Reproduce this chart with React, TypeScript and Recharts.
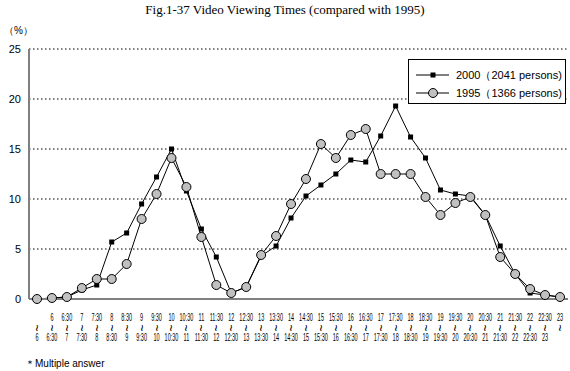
import { LineChart, Line, XAxis, YAxis, CartesianGrid } from "recharts";

// time slot labels: upper line = start, lower line = end
const slotFrom = [
  "", "6", "6:30", "7", "7:30", "8", "8:30", "9", "9:30", "10", "10:30", "11",
  "11:30", "12", "12:30", "13", "13:30", "14", "14:30", "15", "15:30", "16",
  "16:30", "17", "17:30", "18", "18:30", "19", "19:30", "20", "20:30", "21",
  "21:30", "22", "22:30", "23",
];
const slotTo = [
  "6", "6:30", "7", "7:30", "8", "8:30", "9", "9:30", "10", "10:30", "11",
  "11:30", "12", "12:30", "13", "13:30", "14", "14:30", "15", "15:30", "16",
  "16:30", "17", "17:30", "18", "18:30", "19", "19:30", "20", "20:30", "21",
  "21:30", "22", "22:30", "23", "",
];

const share2000 = [
  0, 0.1, 0.2, 0.9, 1.4, 5.7, 6.6, 9.5, 12.2, 15.0, 10.8, 7.0, 4.2, 0.6, 1.2,
  4.3, 5.3, 8.1, 10.3, 11.4, 12.5, 13.9, 13.7, 16.3, 19.3, 16.2, 14.1, 10.9,
  10.5, 10.3, 8.4, 5.3, 2.5, 0.6, 0.4, 0.2,
];
const share1995 = [
  0, 0.1, 0.2, 1.1, 2.0, 2.0, 3.5, 8.0, 10.5, 14.1, 11.2, 6.2, 1.4, 0.6, 1.2,
  4.4, 6.3, 9.5, 12.0, 15.5, 14.1, 16.4, 17.0, 12.5, 12.5, 12.5, 10.2, 8.4,
  9.6, 10.2, 8.4, 4.2, 2.5, 1.0, 0.4, 0.2,
];

const yTicks = [0, 5, 10, 15, 20, 25];

const data = slotFrom.map((f, i) => ({
  slot: `${f}~${slotTo[i]}`,
  y2000: share2000[i],
  y1995: share1995[i],
}));

const sans = "'Liberation Sans', Arial, sans-serif";
const frame = "#808080";

function SlotTick(props: any) {
  const { x, y, index } = props;
  const small = { fontSize: 10, fontFamily: sans, fill: "#000" };
  return (
    <g>
      <text
        transform={`translate(${x},${y + 22}) scale(0.55,1)`}
        textAnchor="middle"
        {...small}
      >
        {slotFrom[index]}
      </text>
      <text
        transform={`translate(${x},${y + 29}) rotate(90)`}
        textAnchor="middle"
        dominantBaseline="central"
        fontSize={12}
        fontFamily={sans}
      >
        ~
      </text>
      <text
        transform={`translate(${x},${y + 42}) scale(0.55,1)`}
        textAnchor="middle"
        {...small}
      >
        {slotTo[index]}
      </text>
    </g>
  );
}

function SquareDot(props: any) {
  const { cx, cy, index } = props;
  return <rect key={`sq-${index}`} x={cx - 2.5} y={cy - 2.5} width={5} height={5} fill="#000" />;
}

function LegendRow({ circle, label, top }: { circle: boolean; label: string; top: number }) {
  return (
    <div style={{ position: "absolute", left: 0, top, height: 12, display: "flex", alignItems: "center" }}>
      <svg width={46} height={12}>
        <line x1={7} y1={6} x2={40} y2={6} stroke="#000" strokeWidth={1} />
        {circle ? (
          <circle cx={24} cy={6} r={4.5} fill="#c0c0c0" stroke="#000" strokeWidth={1} />
        ) : (
          <rect x={21.5} y={3.5} width={5} height={5} fill="#000" />
        )}
      </svg>
      <span style={{ fontSize: 11, fontFamily: sans, whiteSpace: "nowrap", marginLeft: 1 }}>{label}</span>
    </div>
  );
}

export default function App() {
  return (
    <div
      style={{
        position: "absolute",
        left: 0,
        top: 0,
        width: 570,
        height: 371,
        background: "#fff",
        overflow: "hidden",
      }}
    >
      <div
        style={{
          position: "absolute",
          left: 0,
          top: 2,
          width: 570,
          textAlign: "center",
          fontFamily: "'Liberation Serif', 'Times New Roman', serif",
          fontSize: 13,
        }}
      >
        Fig.1-37 Video Viewing Times (compared with 1995)
      </div>
      <div style={{ position: "absolute", left: 4, top: 24, fontSize: 10, fontFamily: sans }}>
        （%）
      </div>

      <LineChart
        width={570}
        height={371}
        data={data}
        margin={{ top: 49, right: 2, bottom: 0, left: 0 }}
      >
        <CartesianGrid
          vertical={false}
          stroke="#000"
          strokeDasharray="1.5 2.5"
        />
        <XAxis
          dataKey="slot"
          interval={0}
          padding={{ left: 8, right: 8 }}
          tickLine={false}
          tickSize={0}
          tickMargin={0}
          height={72}
          axisLine={{ stroke: frame, strokeWidth: 2 }}
          tick={<SlotTick />}
        />
        <XAxis
          xAxisId="top"
          dataKey="slot"
          orientation="top"
          height={0}
          tick={false}
          tickLine={false}
          axisLine={{ stroke: frame, strokeWidth: 2 }}
        />
        <YAxis
          domain={[0, 25]}
          ticks={yTicks}
          width={29}
          tickLine={false}
          axisLine={{ stroke: frame, strokeWidth: 2 }}
          tick={{ fontSize: 11, fontFamily: sans, fill: "#000" }}
        />
        <YAxis
          yAxisId="right"
          orientation="right"
          domain={[0, 25]}
          width={0}
          tick={false}
          tickLine={false}
          axisLine={{ stroke: frame, strokeWidth: 2 }}
        />
        <Line
          dataKey="y2000"
          stroke="#000"
          strokeWidth={1}
          dot={<SquareDot />}
          isAnimationActive={false}
        />
        <Line
          dataKey="y1995"
          stroke="#000"
          strokeWidth={1}
          dot={{ r: 4.5, fill: "#c0c0c0", stroke: "#000", strokeWidth: 1 }}
          isAnimationActive={false}
        />
      </LineChart>

      <div
        style={{
          position: "absolute",
          left: 408,
          top: 59,
          width: 156,
          height: 43,
          border: "1px solid #000",
          background: "#fff",
        }}
      >
        <LegendRow circle={false} label="2000（2041 persons)" top={9} />
        <LegendRow circle={true} label="1995（1366 persons)" top={27} />
      </div>

      <div style={{ position: "absolute", left: 25, top: 357, fontSize: 10, fontFamily: sans }}>
        ＊Multiple answer
      </div>
    </div>
  );
}
